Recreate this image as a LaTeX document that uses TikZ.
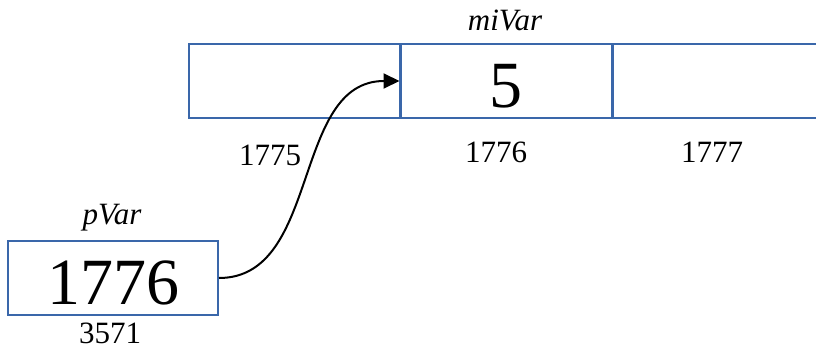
\documentclass[tikz,border=0pt]{standalone}
\usepackage{fontspec}
\setmainfont{Liberation Serif}
\usetikzlibrary{arrows.meta}
\definecolor{boxblue}{RGB}{58,103,170}
\tikzset{
  cellbox/.style={draw=boxblue, line width=2pt, minimum width=211pt, minimum height=74pt, inner sep=0pt},
  bigval/.style={inner sep=0pt, font=\fontsize{66}{70}\selectfont},
  lbl/.style={inner sep=0pt, font=\fontsize{31}{34}\selectfont},
  arrowline/.style={line width=2pt, -{Triangle[length=16pt,width=15pt]}}
}
\begin{document}
\begin{tikzpicture}[x=1pt,y=-1pt]
\useasboundingbox (0,0) rectangle (816,350);
\clip (0,0) rectangle (816,350);
\node[cellbox] (c1) at (294.5,81) {};
\node[cellbox] (c2) at (506,81) {};
\node[cellbox] (c3) at (718,81) {};
\node[bigval] (v5) at (506,86) {5};
\node[lbl] (mivar) at (505,20) {\itshape miVar};
\node[lbl] (a1) at (270,155) {1775};
\node[lbl] (a2) at (496,152) {1776};
\node[lbl] (a3) at (712,152) {1777};
\node[cellbox, minimum width=210pt] (pbox) at (113,278) {};
\node[bigval] (pv) at (113,283) {1776};
\node[lbl] (pvar) at (112,218) {\itshape pVar};
\node[lbl] (addr) at (110,333) {3571};
\draw[arrowline] (pbox.east) .. controls +(102,0) and +(-108,0) .. (c2.west);
\end{tikzpicture}
\end{document}
